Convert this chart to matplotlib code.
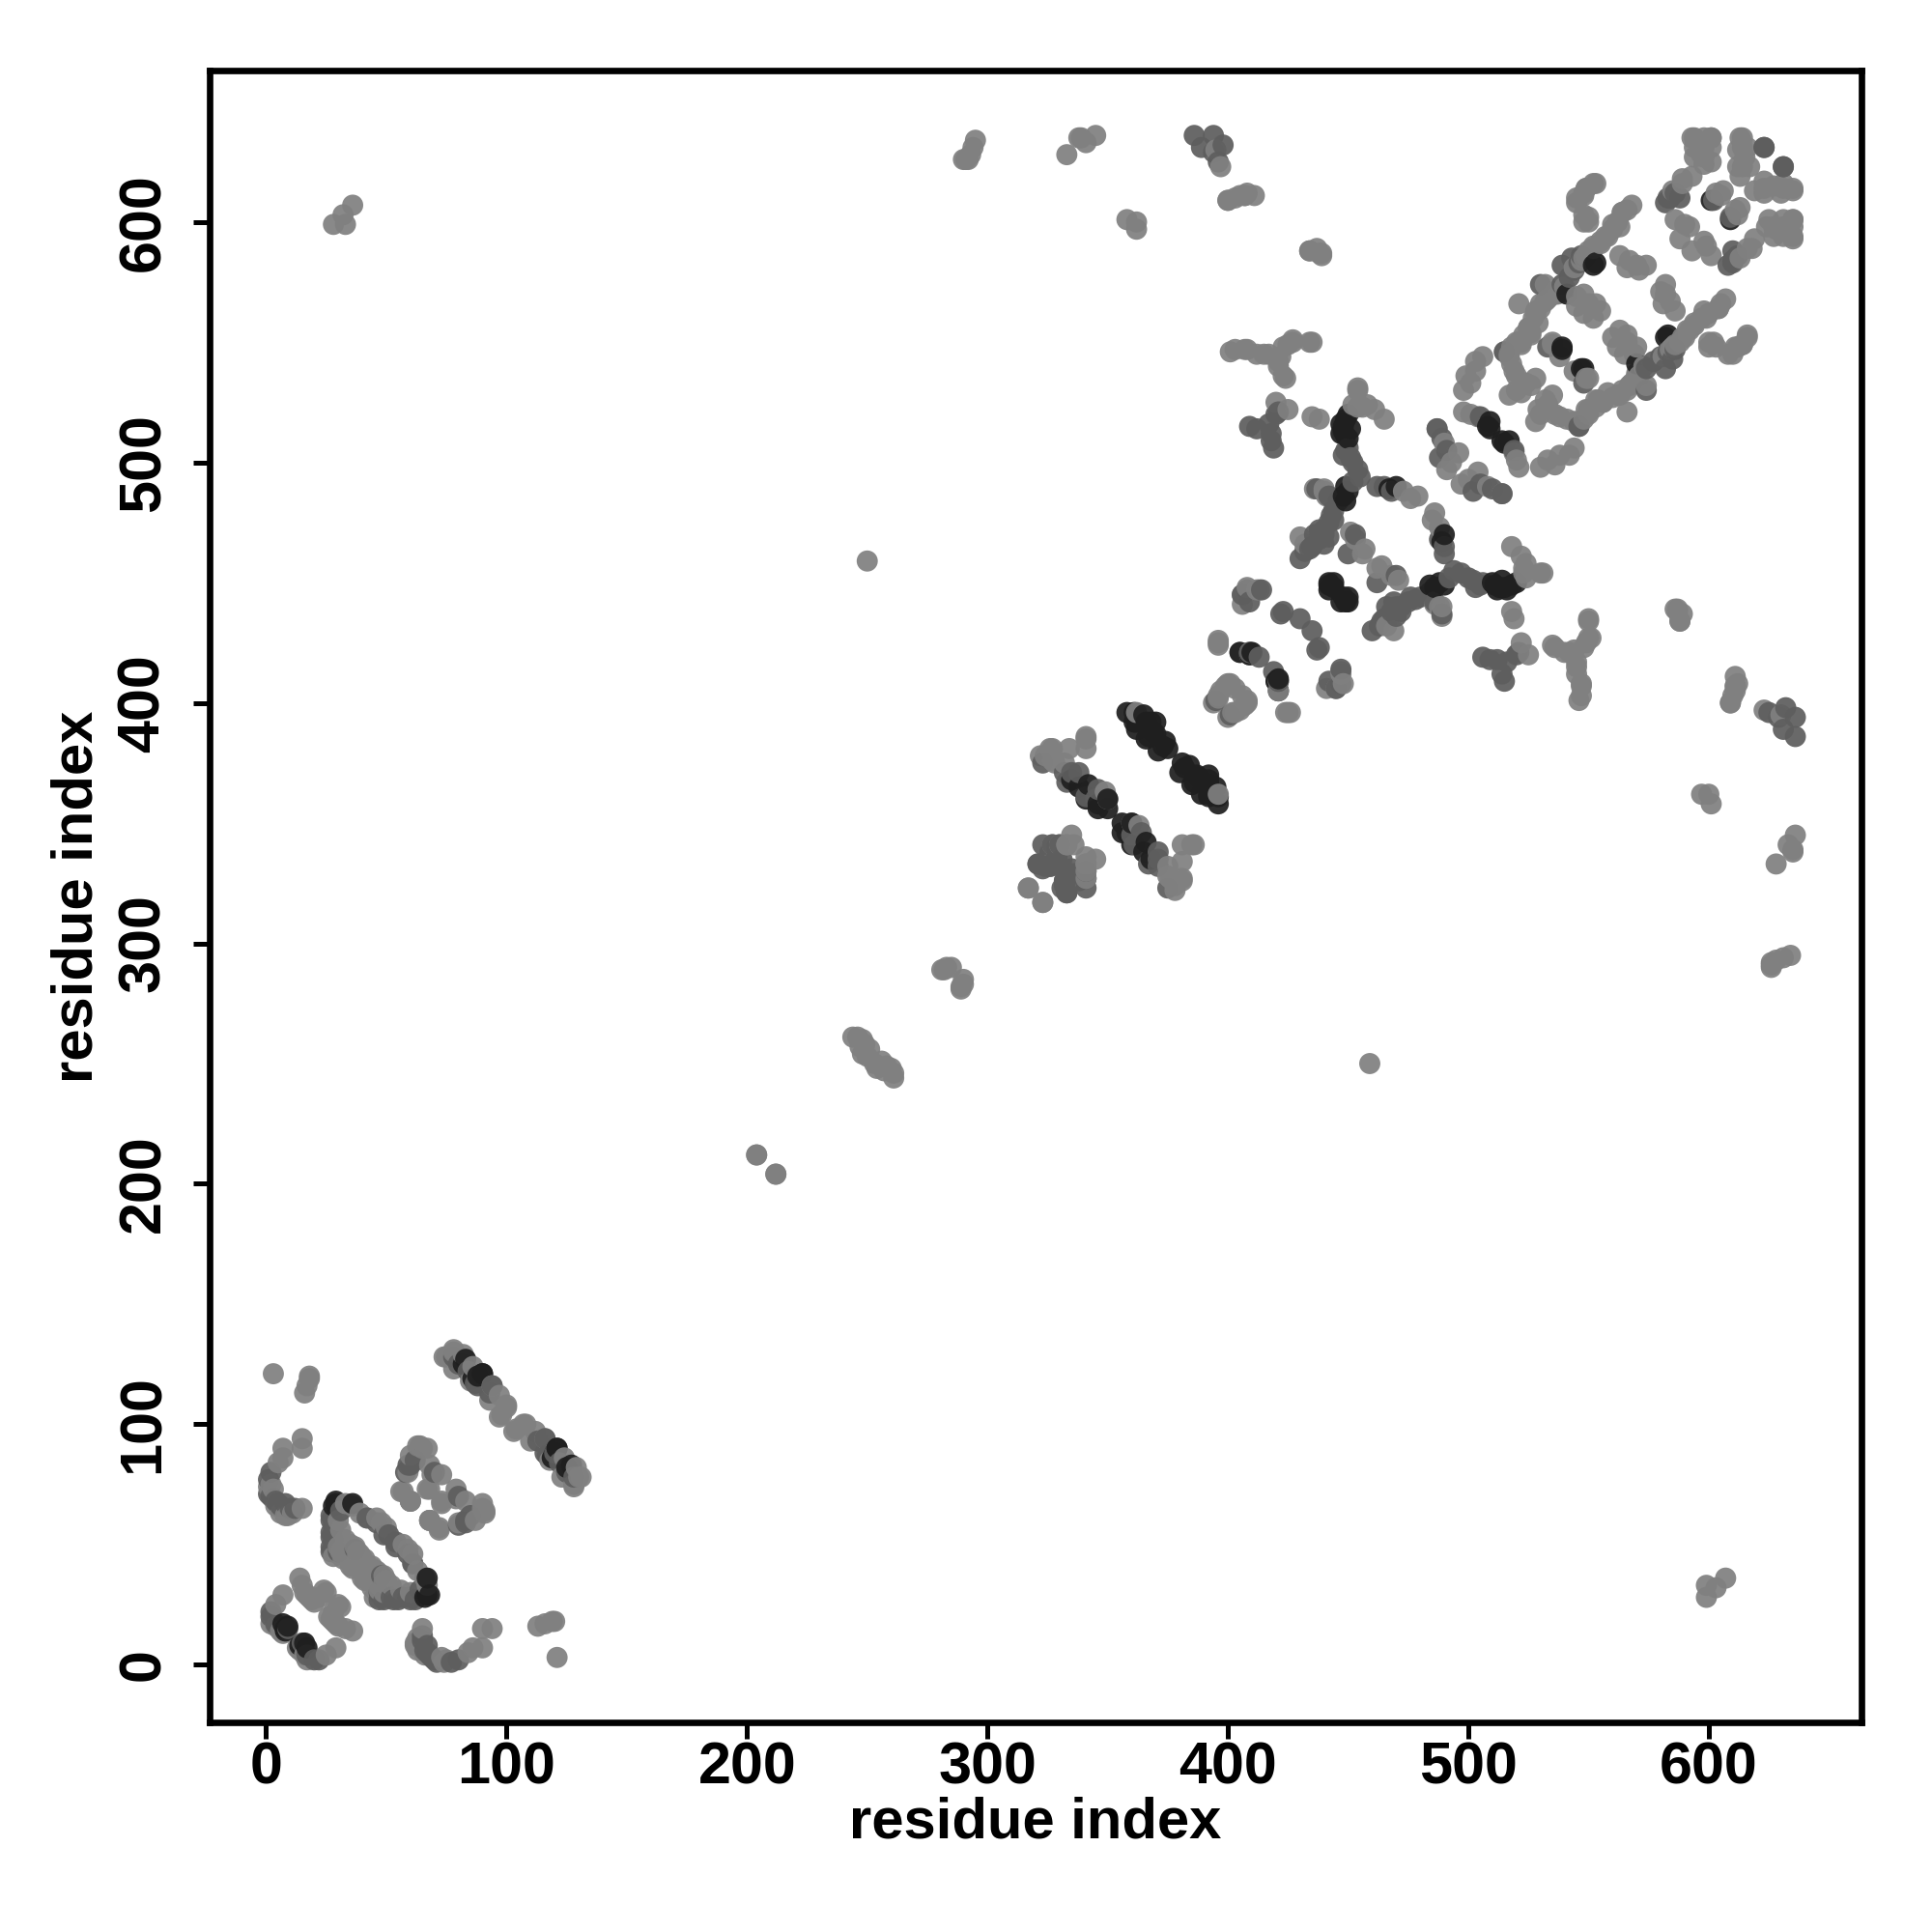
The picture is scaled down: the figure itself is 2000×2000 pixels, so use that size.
#!/usr/bin/env python

import numpy as np
import matplotlib
matplotlib.use("Agg")
import matplotlib.pyplot as plt

# contacts, only the i<j half, the other half is the mirror
faint_i = [3,16,17,18,18,15,15,7,7,5,2,1,3,15,8,4,7,14,15,16,17,18,24,25,22,20,19,2,4,6,7,
    33,36,39,42,46,48,50,34,38,35,41,45,31,39,44,43,36,
    64,67,60,68,69,73,68,73,68,65,63,59,57,60,68,72,
    75,78,82,78,86,85,94,97,100,98,93,78,74,97,100,
    204,212,250,281,283,285,282,244,246,248,247,249,248,250,251,
    28,33,32,36,290,292,293,294,295,291,333,339,341,345,338,
    400,407,411,405,358,362,362,434,439,439,
    401,407,412,417,422,425,427,435,421,424,
    322,326,334,341,341,327,332,349,350,333,324,328,327,341,335,
    425,435,438,454,458,461,465,454,456,452,436,440,
    440,441,430,432,473,479,476,451,453,457,456,
    396,405,409,396,394,396,397,399,400,401,403,424,426,
    487,490,496,493,491,498,501,504,
    498,501,499,503,503,506,517,520,524,528,
    521,525,528,521,532,536,540,532,544,548,552,558,560,564,568,550,555,563,
    553,549,550,550,548,
    535,538,535,563,567,570,574,571,566,548,553,555,552,548,545,550,
    519,520,526,522,518,517,522,526,530,537,545,547,
    548,548,545,545,548,552,549,
    594,598,601,594,598,601,594,598,601,614,616,614,617,612,615,613,
    589,585,586,590,592,588,603,605,606,598,597,601,593,612,614,613,589,593,
    400,403,408,407,397,395,420,423,421,423,427,434,408,403,415,454,
    437,434,438,406,412,406,408,413,
    362,327,330,333,336,317,323,
    6,4,9,11,30,31,33,35,37,40,30,33,36,38,35,32,30,28,
    515,518,520,523,525,527,528,530,533,536,546,549,552,555,557,560,562,564,566,517,522,526,529,
    ]
faint_j = [121,113,116,119,120,94,90,90,86,84,75,74,73,65,62,25,29,36,33,30,29,28,31,30,28,26,27,17,16,14,13,
    67,66,63,61,61,59,57,49,47,43,35,38,47,46,41,38,40,
    91,90,87,83,79,79,73,67,60,90,91,80,72,68,60,56,
    128,131,129,123,124,118,116,112,107,104,110,130,128,103,108,
    212,204,459,289,290,290,289,261,261,260,257,258,254,253,256,
    599,599,603,607,626,626,628,631,634,626,628,635,633,636,635,
    609,611,611,611,601,600,597,588,587,586,
    546,547,545,545,544,549,551,550,540,535,
    378,381,381,385,381,376,375,363,360,341,378,375,381,386,345,
    522,519,518,530,524,522,518,523,523,524,489,489,
    488,486,469,466,488,486,485,471,468,464,462,
    425,421,420,402,400,403,405,407,408,408,406,396,396,
    514,508,504,500,497,521,520,519,
    530,533,536,538,542,544,528,530,533,535,
    550,556,562,566,567,570,573,574,581,585,590,594,599,604,607,588,592,598,
    616,614,602,600,611,
    549,544,550,586,584,582,582,580,581,570,566,563,560,562,565,566,
    538,536,532,529,541,544,550,554,564,570,569,584,
    600,603,608,610,612,616,614,
    635,635,635,631,631,631,627,627,625,635,631,623,623,630,627,619,
    618,613,601,599,598,593,612,611,613,624,628,635,635,623,631,635,616,619,
    609,610,612,611,623,630,525,536,542,548,550,550,547,547,545,531,
    589,588,587,445,447,441,448,447,
    396,341,341,341,341,323,317,
    63,66,62,63,60,56,52,50,49,44,49,47,44,42,45,44,46,45,
    546,548,550,553,556,560,563,566,568,571,583,586,589,591,594,597,600,604,605,545,549,553,558,
    ]
medium_i = [9,4,2,2,31,27,28,27,27,30,37,42,46,49,51,
    58,60,62,70,83,
    84,88,94,113,116,117,125,128,
    323,332,335,338,333,345,341,346,
    409,412,417,419,418,418,420,421,450,448,449,451,
    462,465,468,437,442,444,440,450,453,
    408,406,409,414,423,422,430,
    395,409,413,421,
    487,489,491,488,505,
    515,530,539,543,547,546,
    386,394,389,394,398,396,
    623,631,
    602,583,582,
    533,
    1,1,2,3,4,5,6,8,10,12,2,
    27,28,27,28,27,
    321,324,326,328,329,331,326,329,333,332,333,331,341,341,341,
    452,454,455,452,446,444,443,442,440,438,435,432,430,436,438,434,440,442,
    539,542,544,584,586,588,
    ]
medium_j = [15,17,20,22,64,60,57,53,49,47,48,61,59,54,54,
    80,83,85,80,59,
    122,120,116,93,88,87,80,78,
    375,371,371,371,367,360,361,364,
    515,514,516,506,509,512,520,521,506,503,505,502,
    490,490,488,489,486,476,472,462,470,
    447,445,442,447,438,437,435,
    401,421,419,409,
    514,510,505,502,519,
    546,574,582,585,586,583,
    636,636,631,629,632,625,
    631,623,
    609,610,608,
    548,
    77,71,70,69,68,67,66,67,65,65,80,
    62,59,55,52,47,
    333,332,332,333,336,335,338,340,327,326,321,323,323,327,330,
    500,497,494,492,484,480,478,475,470,468,465,463,460,470,472,464,466,469,
    574,577,580,610,612,610,
    ]
strong_i = [8,8,9,7,29,29,28,36,82,83,90,86,121,120,
    358,361,361,366,370,370,366,374,375,373,371,367,369,368,365,362,362,
    341,346,350,350,346,338,335,342,
    448,448,449,450,449,450,448,449,
    442,444,450,467,470,442,444,
    409,410,421,
    508,509,509,
    539,539,541,552,553,
    601,
    447,447,449,451,450,
    ]
strong_j = [14,15,16,17,67,68,66,67,125,127,121,119,90,88,
    396,396,392,392,392,387,385,384,381,382,380,386,388,392,395,389,392,
    360,358,356,360,356,365,368,366,
    515,513,511,520,490,488,486,484,
    449,448,442,489,490,447,450,
    420,421,405,
    515,514,517,
    547,548,570,582,583,
    609,
    512,516,518,514,510,
    ]
xticks = [0, 100, 200, 300, 400, 500, 600]


def main():
    plt.rcParams["font.family"] = ["Liberation Sans", "DejaVu Sans"]
    plt.rcParams["font.weight"] = "bold"

    ii = np.array(faint_i + medium_i + strong_i)
    jj = np.array(faint_j + medium_j + strong_j)
    shade = np.array([0.50]*len(faint_i) + [0.37]*len(medium_i) + [0.12]*len(strong_i))

    x = np.concatenate([ii, jj])
    y = np.concatenate([jj, ii])
    c = np.concatenate([shade, shade])
    order = np.lexsort((y, x))
    colors = [(g, g, g) for g in c[order]]

    fig = plt.figure(figsize=(10, 10), dpi=200)
    ax = fig.add_axes([217/2000, 217/2000, 1710/2000, 1710/2000])
    ax.scatter(x[order], y[order], s=62, c=colors, alpha=0.93, linewidths=0, zorder=3)
    ax.set_xlim(-23.5, 663.5)
    ax.set_ylim(-24, 663)
    ax.set_xticks(xticks)
    ax.set_yticks(xticks)
    ax.tick_params(length=6, width=1.8, labelsize=22, pad=1)
    ax.tick_params(axis="y", pad=8)
    plt.setp(ax.get_yticklabels(), rotation=90, va="center")
    for s in ax.spines.values():
        s.set_linewidth(2.4)
    ax.set_xlabel("residue index", fontsize=21.5, fontweight="bold", labelpad=0)
    ax.set_ylabel("residue index", fontsize=21.5, fontweight="bold", labelpad=5)
    fig.savefig("out.png")
    plt.close()


if __name__ == "__main__":
    main()
